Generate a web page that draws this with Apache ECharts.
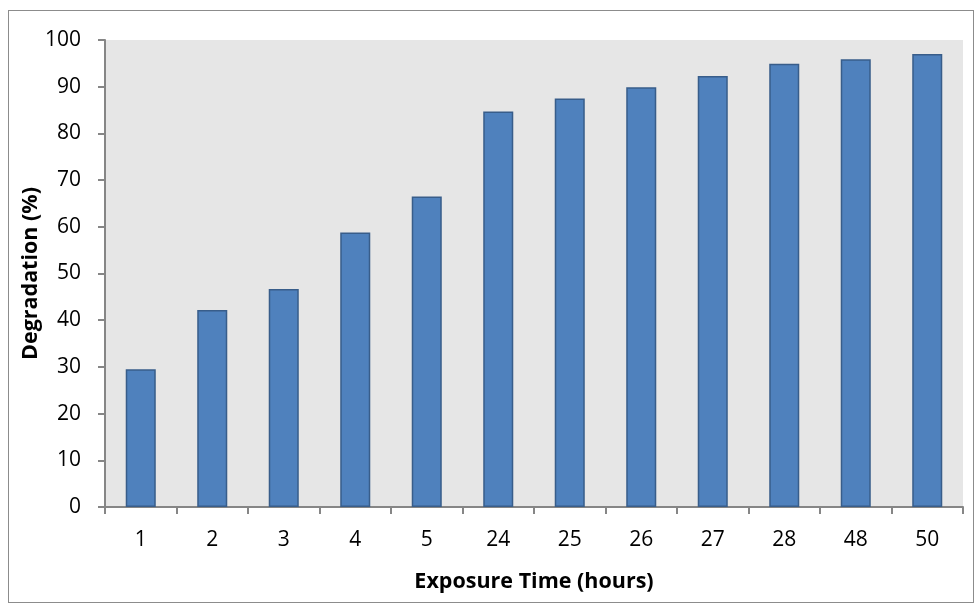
<!DOCTYPE html>
<html>
<head>
<meta charset="utf-8">
<script src="https://cdn.jsdelivr.net/npm/echarts@6/dist/echarts.min.js"></script>
<style>
  html, body { margin: 0; padding: 0; background: #fff; }
  #frame { position: absolute; left: 8px; top: 10px; width: 966px; height: 593px; border: 1px solid #8c8c8c; box-sizing: border-box; }
  #chart { position: absolute; left: 0; top: 0; width: 979px; height: 606px; }
</style>
</head>
<body>
<div id="frame"></div>
<div id="chart"></div>
<script>
// Exposure times (hours) and degradation measured at each
const exposureHours = ['1', '2', '3', '4', '5', '24', '25', '26', '27', '28', '48', '50'];
const degradationPct = [29.5, 42.2, 46.7, 58.8, 66.5, 84.7, 87.5, 89.9, 92.3, 94.9, 95.9, 97.0];
const yTicks = { min: 0, max: 100, interval: 10 };

const FONT = 'Open Sans';
const chart = echarts.init(document.getElementById('chart'), null, { renderer: 'canvas' });

chart.setOption({
  animation: false,
  grid: { left: 105, right: 16, top: 40, bottom: 99, show: true, backgroundColor: '#e6e6e6', borderWidth: 0 },
  xAxis: {
    type: 'category',
    data: exposureHours,
    boundaryGap: true,
    name: 'Exposure Time (hours)',
    nameLocation: 'middle',
    nameGap: 64,
    nameMoveOverlap: false,
    nameTextStyle: { fontFamily: FONT, fontWeight: 'bold', fontSize: 21.5, color: '#000' },
    axisLine: { lineStyle: { color: '#868686', width: 2 } },
    axisTick: { show: true, length: 7, alignWithLabel: false, lineStyle: { color: '#868686', width: 2 } },
    axisLabel: { fontFamily: FONT, fontSize: 21, color: '#000', margin: 23 },
    splitLine: { show: false }
  },
  yAxis: {
    type: 'value',
    min: yTicks.min,
    max: yTicks.max,
    interval: yTicks.interval,
    name: 'Degradation (%)',
    nameLocation: 'middle',
    nameGap: 63,
    nameMoveOverlap: false,
    nameTextStyle: { fontFamily: FONT, fontWeight: 'bold', fontSize: 21.5, color: '#000' },
    axisLine: { show: true, lineStyle: { color: '#868686', width: 2 } },
    axisTick: { show: true, length: 7, lineStyle: { color: '#868686', width: 2 } },
    axisLabel: { fontFamily: FONT, fontSize: 21, color: '#000', margin: 24 },
    splitLine: { show: false }
  },
  series: [{
    type: 'bar',
    data: degradationPct,
    barWidth: '42%',
    itemStyle: { color: '#4f81bd', borderColor: '#385d8a', borderWidth: 1.5 }
  }]
});
</script>
</body>
</html>
